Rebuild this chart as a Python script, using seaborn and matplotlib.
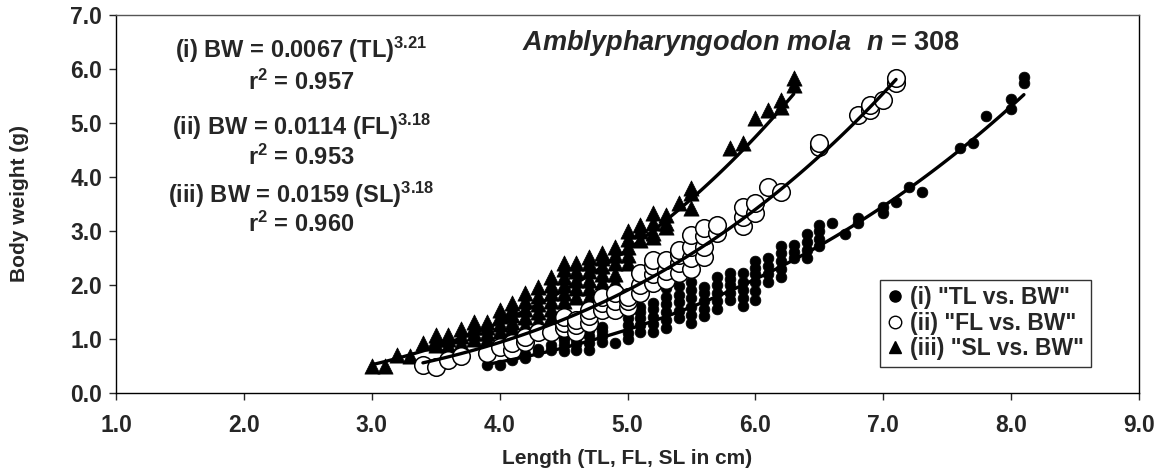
import numpy as np
import pandas as pd
import matplotlib
matplotlib.use("Agg")
import matplotlib.pyplot as plt
import seaborn as sns

# ---- data: (length cm, body weight g) ----
tl_len = [3.9, 4.0, 4.1, 4.1, 4.2, 4.2, 4.3, 4.3, 4.4, 4.4,
          4.5, 4.5, 4.5, 4.5, 4.6, 4.6, 4.6, 4.6, 4.6, 4.7, 4.7, 4.7, 4.7,
          4.8, 4.8, 4.8, 4.8, 4.9,
          5.0, 5.0, 5.0, 5.0, 5.0, 5.0, 5.1, 5.1, 5.1, 5.1, 5.1,
          5.2, 5.2, 5.2, 5.2, 5.2, 5.3, 5.3, 5.3, 5.3, 5.3, 5.3,
          5.4, 5.4, 5.4, 5.4, 5.4, 5.5, 5.5, 5.5, 5.5, 5.5, 5.5,
          5.6, 5.6, 5.6, 5.6, 5.6, 5.7, 5.7, 5.7, 5.7, 5.7,
          5.8, 5.8, 5.8, 5.8, 5.8, 5.9, 5.9, 5.9, 5.9, 5.9,
          6.0, 6.0, 6.0, 6.0, 6.0, 6.0, 6.1, 6.1, 6.1, 6.1,
          6.2, 6.2, 6.2, 6.2, 6.2, 6.3, 6.3, 6.3, 6.4, 6.4, 6.4, 6.4,
          6.5, 6.5, 6.5, 6.5, 6.6, 6.7, 6.8, 6.8, 7.0, 7.0, 7.1, 7.2, 7.3,
          7.6, 7.7, 7.8, 8.0, 8.0, 8.1, 8.1]
tl_bw = [0.52, 0.52, 0.62, 0.68, 0.65, 0.72, 0.75, 0.82, 0.80, 0.88,
         0.78, 0.88, 0.98, 1.04, 0.80, 0.90, 1.00, 1.10, 1.17, 0.80, 0.92, 1.05, 1.17,
         0.95, 1.05, 1.15, 1.22, 0.93,
         1.00, 1.12, 1.25, 1.38, 1.50, 1.60, 1.13, 1.25, 1.38, 1.50, 1.60,
         1.13, 1.27, 1.40, 1.55, 1.67, 1.20, 1.35, 1.50, 1.65, 1.78, 1.95,
         1.38, 1.52, 1.68, 1.82, 1.98, 1.30, 1.45, 1.60, 1.75, 1.90, 2.05,
         1.42, 1.55, 1.70, 1.85, 1.96, 1.55, 1.70, 1.85, 2.00, 2.15,
         1.72, 1.85, 2.00, 2.12, 2.22, 1.62, 1.75, 1.90, 2.05, 2.22,
         1.72, 1.88, 2.05, 2.20, 2.32, 2.45, 2.05, 2.20, 2.35, 2.50,
         2.15, 2.30, 2.45, 2.60, 2.72, 2.50, 2.62, 2.74, 2.50, 2.65, 2.80, 2.95,
         2.72, 2.85, 3.00, 3.12, 3.15, 2.95, 3.15, 3.24, 3.33, 3.44, 3.54, 3.81, 3.72,
         4.54, 4.63, 5.13, 5.26, 5.44, 5.74, 5.85]

fl_len = [3.4, 3.5, 3.6, 3.7, 3.9, 4.0, 4.1, 4.1, 4.2, 4.2, 4.3, 4.4,
          4.5, 4.5, 4.5, 4.6, 4.6, 4.6, 4.7, 4.7, 4.7, 4.8, 4.8, 4.8,
          4.9, 4.9, 4.9, 5.0, 5.0, 5.0, 5.1, 5.1, 5.1, 5.2, 5.2, 5.2, 5.2,
          5.3, 5.3, 5.3, 5.4, 5.4, 5.4, 5.4, 5.5, 5.5, 5.5, 5.5,
          5.6, 5.6, 5.6, 5.6, 5.7, 5.7, 5.9, 5.9, 5.9, 6.0, 6.0, 6.1, 6.2,
          6.5, 6.5, 6.8, 6.9, 6.9, 7.0, 7.1, 7.1]
fl_bw = [0.52, 0.48, 0.61, 0.68, 0.74, 0.85, 0.80, 0.92, 0.95, 1.04, 1.13, 1.13,
         1.20, 1.30, 1.40, 1.13, 1.25, 1.35, 1.30, 1.42, 1.54, 1.54, 1.66, 1.78,
         1.54, 1.70, 1.85, 1.60, 1.70, 1.78, 1.85, 2.00, 2.22, 2.04, 2.20, 2.35, 2.46,
         2.10, 2.25, 2.46, 2.22, 2.40, 2.55, 2.65, 2.30, 2.50, 2.70, 2.93,
         2.52, 2.70, 2.90, 3.06, 2.96, 3.11, 3.10, 3.26, 3.44, 3.33, 3.52, 3.81, 3.72,
         4.56, 4.63, 5.15, 5.24, 5.33, 5.43, 5.74, 5.83]

sl_len = [3.0, 3.1, 3.2, 3.3, 3.4, 3.5, 3.5, 3.5, 3.6, 3.6, 3.6, 3.7, 3.7, 3.7,
          3.8, 3.8, 3.8, 3.8, 3.9, 3.9, 3.9, 3.9, 4.0, 4.0, 4.0, 4.0, 4.0,
          4.1, 4.1, 4.1, 4.1, 4.1, 4.2, 4.2, 4.2, 4.2, 4.2, 4.2,
          4.3, 4.3, 4.3, 4.3, 4.3, 4.3, 4.4, 4.4, 4.4, 4.4, 4.4, 4.4,
          4.5, 4.5, 4.5, 4.5, 4.5, 4.5, 4.5, 4.6, 4.6, 4.6, 4.6, 4.6,
          4.7, 4.7, 4.7, 4.7, 4.7, 4.7, 4.8, 4.8, 4.8, 4.8, 4.8, 4.8,
          4.9, 4.9, 4.9, 4.9, 4.9, 4.9, 5.0, 5.0, 5.0, 5.0, 5.0,
          5.1, 5.1, 5.1, 5.2, 5.2, 5.2, 5.2, 5.3, 5.3, 5.3, 5.4,
          5.5, 5.5, 5.5, 5.8, 5.9, 6.0, 6.1, 6.2, 6.2, 6.3, 6.3]
sl_bw = [0.50, 0.50, 0.70, 0.68, 0.93, 0.88, 1.00, 1.08, 0.88, 1.00, 1.08, 0.92, 1.05, 1.18,
         1.00, 1.12, 1.22, 1.32, 1.00, 1.12, 1.22, 1.32, 1.00, 1.15, 1.28, 1.42, 1.54,
         1.20, 1.32, 1.45, 1.56, 1.67, 1.10, 1.25, 1.40, 1.55, 1.70, 1.85,
         1.22, 1.36, 1.50, 1.64, 1.80, 1.96, 1.40, 1.55, 1.70, 1.85, 2.00, 2.15,
         1.54, 1.70, 1.85, 2.00, 2.15, 2.30, 2.40, 1.78, 1.95, 2.10, 2.25, 2.40,
         1.78, 1.95, 2.10, 2.25, 2.40, 2.52, 1.90, 2.05, 2.20, 2.35, 2.50, 2.60,
         1.90, 2.05, 2.20, 2.40, 2.55, 2.70, 2.40, 2.55, 2.70, 2.85, 3.00,
         2.83, 3.00, 3.11, 2.89, 2.96, 3.15, 3.33, 3.07, 3.15, 3.30, 3.52,
         3.43, 3.70, 3.80, 4.54, 4.63, 5.09, 5.24, 5.30, 5.43, 5.70, 5.83]

# fitted length-weight relationships BW = a * L^b as printed in the chart
fit_a = [0.0067, 0.0114, 0.0159]
fit_b = [3.21, 3.18, 3.18]
fit_r2 = [0.957, 0.953, 0.960]
fit_names = ["TL", "FL", "SL"]
fit_tags = ["(i)", "(ii)", "(iii)"]
legend_labels = ['(i) "TL vs. BW"', '(ii) "FL vs. BW"', '(iii) "SL vs. BW"']

sns.set_theme(style="ticks")
plt.rcParams["font.family"] = ["Liberation Sans", "DejaVu Sans"]
plt.rcParams["font.weight"] = "bold"
plt.rcParams["mathtext.fontset"] = "custom"
plt.rcParams["mathtext.rm"] = "Liberation Sans:bold"
plt.rcParams["mathtext.bf"] = "Liberation Sans:bold"
plt.rcParams["mathtext.it"] = "Liberation Sans:bold:italic"
plt.rcParams["mathtext.default"] = "bf"

fig = plt.figure(figsize=(11.58, 4.74), dpi=100)
ax = fig.add_axes([0.1002, 0.1709, 0.8834, 0.7975])

df_tl = pd.DataFrame({"L": tl_len, "BW": tl_bw})
df_fl = pd.DataFrame({"L": fl_len, "BW": fl_bw})
df_sl = pd.DataFrame({"L": sl_len, "BW": sl_bw})

sns.scatterplot(data=df_sl, x="L", y="BW", marker="^", s=120, color="black",
                edgecolor="black", linewidth=0.5, ax=ax, zorder=2)
sns.scatterplot(data=df_tl, x="L", y="BW", marker="o", s=60, color="black",
                edgecolor="black", linewidth=0.5, ax=ax, zorder=3)
sns.scatterplot(data=df_fl, x="L", y="BW", marker="o", s=160, color="white",
                edgecolor="black", linewidth=1.1, ax=ax, zorder=4)

# trend lines from the printed equations
for df, a, b in [(df_tl, fit_a[0], fit_b[0]), (df_fl, fit_a[1], fit_b[1]),
                 (df_sl, fit_a[2], fit_b[2])]:
    xs = np.linspace(df["L"].min(), df["L"].max(), 100)
    sns.lineplot(x=xs, y=a * xs ** b, color="black", linewidth=2.4, ax=ax, zorder=5)

ticks_x = np.arange(1, 9.5, 1)
ticks_y = np.arange(0, 7.5, 1)
ax.set_xlim(1, 9)
ax.set_ylim(0, 7)
ax.set_xticks(ticks_x)
ax.set_yticks(ticks_y)
ax.set_xticklabels([f"{v:.1f}" for v in ticks_x])
ax.set_yticklabels([f"{v:.1f}" for v in ticks_y])
ax.tick_params(direction="out", length=5, width=1, pad=5, labelsize=16.5)
ax.tick_params(axis="x", pad=10)
for t in ax.get_xticklabels() + ax.get_yticklabels():
    t.set_fontweight("bold")
for sp in ax.spines.values():
    sp.set_linewidth(1.0)
    sp.set_color("black")
ax.spines["top"].set_color("#555555")

ax.set_xlabel("Length (TL, FL, SL in cm)", fontsize=15, fontweight="bold")
ax.set_ylabel("Body weight (g)", fontsize=15, fontweight="bold")
ax.xaxis.set_label_coords(0.5, -0.148)
ax.yaxis.set_label_coords(-0.085, 0.5)

# equations
eq_y = [6.35, 4.93, 3.67]
r2_y = [5.76, 4.37, 3.13]
for i in range(3):
    ax.text(2.45, eq_y[i],
            f"{fit_tags[i]} BW = {fit_a[i]:.4f} ({fit_names[i]})$^{{{fit_b[i]:.2f}}}$",
            ha="center", va="center", fontsize=17, fontweight="bold")
    ax.text(2.45, r2_y[i], f"r$^{{2}}$ = {fit_r2[i]:.3f}",
            ha="center", va="center", fontsize=17, fontweight="bold")

ax.text(5.89, 6.48, r"$\mathit{Amblypharyngodon\ mola\ \ n}$ = 308",
        ha="center", va="center", fontsize=19.5, fontweight="bold")

handles = [
    plt.Line2D([], [], marker="o", color="black", linestyle="none", markersize=8),
    plt.Line2D([], [], marker="o", markerfacecolor="white", markeredgecolor="black",
               linestyle="none", markersize=9),
    plt.Line2D([], [], marker="^", color="black", linestyle="none", markersize=9),
]
leg = ax.legend(handles, legend_labels, loc="lower left", bbox_to_anchor=(0.747, 0.069),
                frameon=True, fancybox=False, edgecolor="black",
                handlelength=0.7, handletextpad=0.3, borderpad=0.3, labelspacing=0.1,
                borderaxespad=0, prop={"weight": "bold", "size": 16.5})
leg.get_frame().set_linewidth(1.0)

fig.savefig("out.png", dpi=100)
